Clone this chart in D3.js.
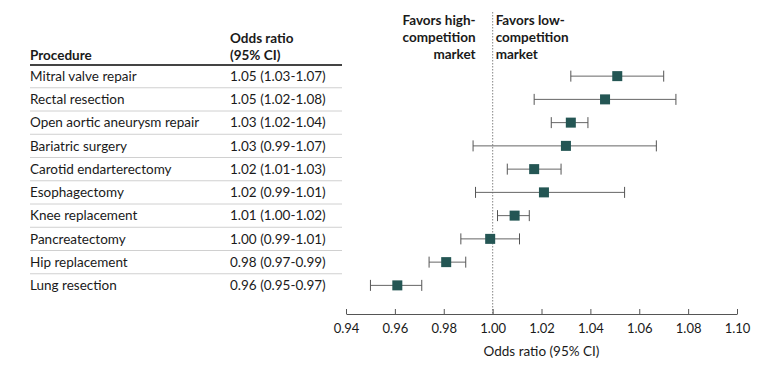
<!DOCTYPE html>
<html>
<head>
<meta charset="utf-8">
<script src="https://cdn.jsdelivr.net/npm/d3@7"></script>
<style>
  body { margin: 0; background: #fff; }
  svg text { font-family: Lato, "Open Sans", sans-serif; fill: #1a1a1a; }
</style>
</head>
<body>
<div id="chart"></div>
<script>
// data
var procedures = ["Mitral valve repair", "Rectal resection", "Open aortic aneurysm repair",
  "Bariatric surgery", "Carotid endarterectomy", "Esophagectomy", "Knee replacement",
  "Pancreatectomy", "Hip replacement", "Lung resection"];
var ciLabels = ["1.05 (1.03-1.07)", "1.05 (1.02-1.08)", "1.03 (1.02-1.04)", "1.03 (0.99-1.07)",
  "1.02 (1.01-1.03)", "1.02 (0.99-1.01)", "1.01 (1.00-1.02)", "1.00 (0.99-1.01)",
  "0.98 (0.97-0.99)", "0.96 (0.95-0.97)"];
var oddsRatio = [1.051, 1.046, 1.032, 1.030, 1.017, 1.021, 1.009, 0.999, 0.981, 0.961];
var ciLow = [1.032, 1.017, 1.024, 0.992, 1.006, 0.993, 1.002, 0.987, 0.974, 0.950];
var ciHigh = [1.070, 1.075, 1.039, 1.067, 1.028, 1.054, 1.015, 1.011, 0.989, 0.971];
var xTicks = [0.94, 0.96, 0.98, 1.00, 1.02, 1.04, 1.06, 1.08, 1.10];

var w = 780, h = 371;

var svg = d3.select("#chart").append("svg")
  .attr("width", w)
  .attr("height", h);

var x = d3.scaleLinear().domain([0.94, 1.10]).range([346, 737]);
var y = d3.scaleBand().domain(procedures).range([64.5, 297]);

// table header
svg.append("text").attr("x", 30).attr("y", 60).attr("font-size", 13.5).attr("font-weight", "bold").text("Procedure");
svg.append("text").attr("x", 230).attr("y", 43).attr("font-size", 13.5).attr("font-weight", "bold").text("Odds ratio");
svg.append("text").attr("x", 230).attr("y", 60).attr("font-size", 13.5).attr("font-weight", "bold").text("(95% CI)");
svg.append("line").attr("x1", 30).attr("x2", 342).attr("y1", 65).attr("y2", 65)
  .attr("stroke", "#444").attr("stroke-width", 2);

// row separators
svg.selectAll(".sep")
  .data(procedures.slice(1))
  .enter().append("line")
  .attr("x1", 30).attr("x2", 342)
  .attr("y1", d => y(d)).attr("y2", d => y(d))
  .attr("stroke", "#d0d0d0").attr("stroke-width", 1);

var rows = svg.selectAll(".row")
  .data(procedures)
  .enter().append("g")
  .attr("transform", d => "translate(0," + (y(d) + y.bandwidth() / 2) + ")");

rows.append("text").attr("x", 30).attr("dy", "0.35em").attr("font-size", 13.5).text(d => d);
rows.append("text").attr("x", 230).attr("dy", "0.35em").attr("font-size", 13.5).text((d, i) => ciLabels[i]);

// favors labels
var hi = ["Favors high-", "competition", "market"];
var lo = ["Favors low-", "competition", "market"];
svg.selectAll(".hi").data(hi).enter().append("text")
  .attr("x", x(1) - 17).attr("y", (d, i) => 25 + i * 17)
  .attr("text-anchor", "end").attr("font-size", 13.5).attr("font-weight", "bold").text(d => d);
svg.selectAll(".lo").data(lo).enter().append("text")
  .attr("x", x(1) + 3).attr("y", (d, i) => 25 + i * 17)
  .attr("font-size", 13.5).attr("font-weight", "bold").text(d => d);

// reference line
svg.append("line")
  .attr("x1", x(1)).attr("x2", x(1)).attr("y1", 12).attr("y2", 314)
  .attr("stroke", "#999").attr("stroke-width", 1.2).attr("stroke-dasharray", "1.5,1.5");

// CIs and points
var marks = svg.selectAll(".mark")
  .data(procedures)
  .enter().append("g")
  .attr("transform", d => "translate(0," + (y(d) + y.bandwidth() / 2) + ")");

marks.append("line")
  .attr("x1", (d, i) => x(ciLow[i])).attr("x2", (d, i) => x(ciHigh[i]))
  .attr("stroke", "#666").attr("stroke-width", 1);
marks.append("line")
  .attr("x1", (d, i) => x(ciLow[i])).attr("x2", (d, i) => x(ciLow[i]))
  .attr("y1", -5.5).attr("y2", 5.5).attr("stroke", "#555").attr("stroke-width", 1);
marks.append("line")
  .attr("x1", (d, i) => x(ciHigh[i])).attr("x2", (d, i) => x(ciHigh[i]))
  .attr("y1", -5.5).attr("y2", 5.5).attr("stroke", "#555").attr("stroke-width", 1);
marks.append("rect")
  .attr("x", (d, i) => x(oddsRatio[i]) - 5).attr("y", -5)
  .attr("width", 10).attr("height", 10)
  .attr("fill", "#245654");

// x axis
var axis = svg.append("g")
  .attr("transform", "translate(0,314)")
  .call(d3.axisBottom(x).tickValues(xTicks).tickFormat(d3.format(".2f")).tickSize(-5).tickSizeOuter(0));
axis.select(".domain").attr("stroke", "#555");
axis.selectAll(".tick line").attr("stroke", "#555");
axis.selectAll(".tick text").attr("font-size", 13).attr("dy", "1.2em")
  .style("font-family", "Lato, sans-serif").attr("fill", "#222");

svg.append("text")
  .attr("x", x(1.02)).attr("y", 356)
  .attr("text-anchor", "middle").attr("font-size", 13.5)
  .text("Odds ratio (95% CI)");
</script>
</body>
</html>
